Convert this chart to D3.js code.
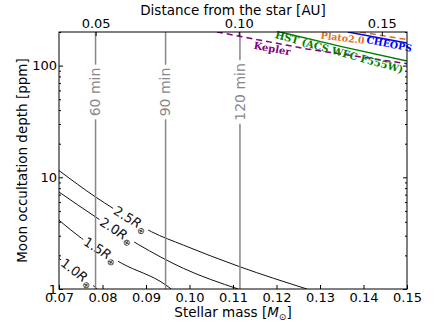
<!doctype html>
<html lang="en">
<head>
<meta charset="utf-8" />
<title>Moon occultation depth</title>
<script src="https://cdn.jsdelivr.net/npm/d3@7"></script>
<style>
	body { margin: 0; background: #fff; }
	svg { display: block; font-family: "DejaVu Sans", sans-serif; }
</style>
</head>
<body>
<div id="chart"></div>
<script>
	// axis ticks
	const massTicks = [0.07, 0.08, 0.09, 0.1, 0.11, 0.12, 0.13, 0.14, 0.15];
	const auTicks = [0.05, 0.1, 0.15];
	const depthTicks = [1, 10, 100];

	// moon radius curves: [stellar mass, depth ppm]
	const radiusLabels = ["1.0", "1.5", "2.0", "2.5"];
	const curve10 = [[0.07, 1.88], [0.0745, 1.38], [0.0788, 1.0]];
	const curve15 = [[0.07, 4.13], [0.0752, 2.84], [0.0844, 1.7], [0.0945, 1.09], [0.0958, 1.0]];
	const curve20 = [[0.07, 7.39], [0.0784, 4.42], [0.0882, 2.51], [0.0986, 1.53], [0.1112, 1.0]];
	const curve25 = [[0.07, 11.5], [0.0784, 6.67], [0.0825, 5.25], [0.0913, 3.25], [0.0986, 2.47], [0.1116, 1.58], [0.127, 1.0]];
	const radiusLabelMass = [0.0742, 0.0796, 0.0833, 0.0865];

	// orbital period markers
	const periodLabels = ["60 min", "90 min", "120 min"];
	const periodMass = [0.0784, 0.0945, 0.1116];

	// instrument limits
	const instruments = ["Kepler", "HST (ACS WFC F555W)", "Plato2.0", "CHEOPS"];
	const instColors = ["#800080", "#008000", "#e3701f", "#0000ff"];
	const instDashed = [true, false, true, false];
	const keplerLine = [[0.1063, 200], [0.127, 141], [0.15, 104]];
	const hstLine = [[0.1208, 200], [0.135, 148], [0.15, 110]];
	const platoLine = [[0.1392, 200], [0.15, 171]];
	const cheopsLine = [[0.1364, 200], [0.15, 159]];
	const instLabelPos = [[0.119, 142, 10], [0.1344, 132, 15.5], [0.1352, 177, 7], [0.1459, 156, 11]];

	const W = 436, H = 329;
	const M = { left: 59, right: 29, top: 32, bottom: 40 };
	const iw = W - M.left - M.right, ih = H - M.top - M.bottom;

	const x = d3.scaleLinear().domain([0.07, 0.15]).range([0, iw]);
	const xTop = d3.scaleLinear().domain([0.0372, 0.1588]).range([0, iw]);
	const y = d3.scaleLog().domain([1, 200]).range([ih, 0]);

	const svg = d3.select("#chart").append("svg").attr("width", W).attr("height", H);
	svg.append("defs").append("clipPath").attr("id", "clip")
		.append("rect").attr("width", iw).attr("height", ih);
	const g = svg.append("g").attr("transform", `translate(${M.left},${M.top})`);
	const plot = g.append("g").attr("clip-path", "url(#clip)");

	const line = d3.line().x((d) => x(d[0])).y((d) => y(d[1])).curve(d3.curveMonotoneX);

	// position on a curve in pixel space
	const onCurve = (curve, m) => {
		const px = x(m);
		for (let i = 1; i < curve.length; i++) {
			const a = curve[i - 1], b = curve[i];
			if (m <= b[0]) {
				const t = (m - a[0]) / (b[0] - a[0]);
				const py = y(a[1]) + t * (y(b[1]) - y(a[1]));
				const ang = Math.atan2(y(b[1]) - y(a[1]), x(b[0]) - x(a[0])) * 180 / Math.PI;
				return [px, py, ang];
			}
		}
	};

	// radius curves
	const curves = [curve10, curve15, curve20, curve25];
	curves.forEach((c) => {
		plot.append("path").attr("d", line(c)).attr("fill", "none")
			.attr("stroke", "#111").attr("stroke-width", 1);
	});
	curves.forEach((c, i) => {
		const [px, py, ang] = onCurve(c, radiusLabelMass[i]);
		const lg = plot.append("g").attr("transform", `translate(${px},${py}) rotate(${ang})`);
		const t = lg.append("text").attr("text-anchor", "middle").attr("dy", "0.35em")
			.attr("font-size", 13).attr("fill", "#111");
		t.append("tspan").text(radiusLabels[i]);
		t.append("tspan").attr("font-style", "italic").text("R");
		t.append("tspan").attr("font-size", 9).attr("dy", "0.35em").text("⊕");
		const bb = t.node().getBBox();
		lg.insert("rect", "text").attr("x", bb.x - 2).attr("y", bb.y + 1)
			.attr("width", bb.width + 4).attr("height", bb.height - 2).attr("fill", "#fff");
	});

	// period lines
	periodMass.forEach((m, i) => {
		plot.append("line").attr("x1", x(m)).attr("x2", x(m)).attr("y1", 0).attr("y2", ih)
			.attr("stroke", "#888").attr("stroke-width", 1.5);
		const lg = plot.append("g").attr("transform", `translate(${x(m)},${60}) rotate(-90)`);
		const t = lg.append("text").attr("text-anchor", "middle").attr("dy", "0.35em")
			.attr("font-size", 14).attr("fill", "#888").text(periodLabels[i]);
		const bb = t.node().getBBox();
		lg.insert("rect", "text").attr("x", bb.x - 3).attr("y", bb.y)
			.attr("width", bb.width + 6).attr("height", bb.height).attr("fill", "#fff");
	});

	// instrument lines
	[keplerLine, hstLine, platoLine, cheopsLine].forEach((c, i) => {
		plot.append("path").attr("d", d3.line().x((d) => x(d[0])).y((d) => y(d[1]))(c))
			.attr("fill", "none").attr("stroke", instColors[i]).attr("stroke-width", 1.5)
			.attr("stroke-dasharray", instDashed[i] ? "6,4" : null);
	});
	instruments.forEach((name, i) => {
		const [m, d, ang] = instLabelPos[i];
		g.append("text").attr("transform", `translate(${x(m)},${y(d)}) rotate(${ang})`)
			.attr("text-anchor", "middle").attr("dy", "0.35em")
			.attr("font-family", "'DejaVu Serif', serif").attr("font-weight", "bold")
			.attr("font-size", i >= 2 ? 9.5 : 10).attr("fill", instColors[i]).text(name);
	});

	// axes
	g.append("g").attr("transform", `translate(0,${ih})`)
		.call(d3.axisBottom(x).tickValues(massTicks).tickFormat(d3.format(".2f")).tickSizeInner(-4).tickSizeOuter(0).tickPadding(3.5));
	g.append("g")
		.call(d3.axisTop(xTop).tickValues(auTicks).tickFormat(d3.format(".2f")).tickSizeInner(-4).tickSizeOuter(0).tickPadding(4));
	const minor = y.ticks().filter((v) => !depthTicks.includes(v));
	g.append("g")
		.call(d3.axisLeft(y).tickValues(depthTicks).tickFormat(d3.format("d")).tickSizeInner(-4).tickSizeOuter(0).tickPadding(2));
	g.append("g").call(d3.axisLeft(y).tickValues(minor).tickFormat("").tickSizeInner(-2).tickSizeOuter(0));
	g.append("g").attr("transform", `translate(${iw},0)`)
		.call(d3.axisRight(y).tickValues(depthTicks).tickFormat("").tickSizeInner(-4).tickSizeOuter(0));
	g.append("g").attr("transform", `translate(${iw},0)`)
		.call(d3.axisRight(y).tickValues(minor).tickFormat("").tickSizeInner(-2).tickSizeOuter(0));
	g.selectAll(".domain").remove();
	g.selectAll(".tick line").attr("stroke", "#000");
	g.selectAll(".tick text").attr("font-size", 13).attr("font-family", "'DejaVu Sans', sans-serif").attr("fill", "#000");

	g.append("rect").attr("width", iw).attr("height", ih).attr("fill", "none").attr("stroke", "#000").attr("stroke-width", 1);

	// axis titles
	const xl = svg.append("text").attr("x", M.left + iw / 2).attr("y", 316.5)
		.attr("text-anchor", "middle").attr("font-size", 13.5);
	xl.append("tspan").text("Stellar mass [");
	xl.append("tspan").attr("font-style", "italic").text("M");
	xl.append("tspan").attr("font-size", 9).attr("dy", 3).text("⊙");
	xl.append("tspan").attr("dy", -3).text("]");

	svg.append("text").attr("x", M.left + iw / 2).attr("y", 14.5).attr("text-anchor", "middle")
		.attr("font-size", 13.5).text("Distance from the star [AU]");

	svg.append("text").attr("transform", `translate(27,${M.top + ih / 2}) rotate(-90)`)
		.attr("text-anchor", "middle").attr("font-size", 13.5).text("Moon occultation depth [ppm]");
</script>
</body>
</html>
